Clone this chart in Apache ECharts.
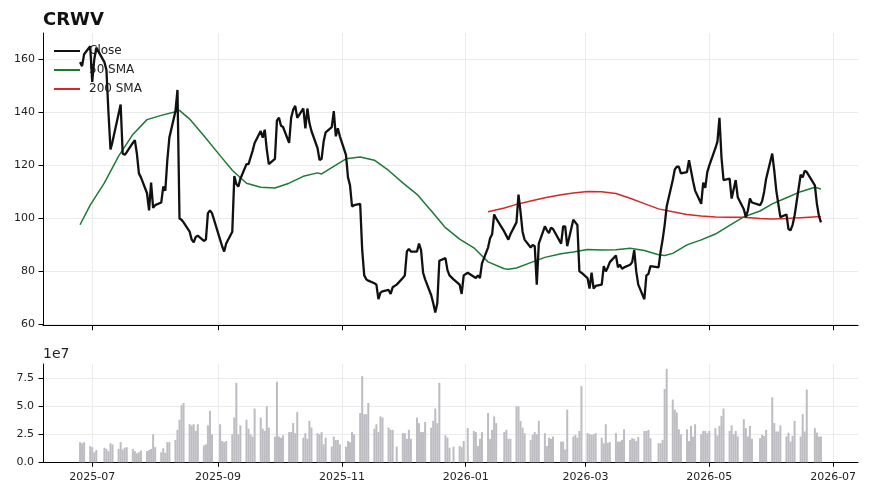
<!DOCTYPE html>
<html>
<head>
<meta charset="utf-8">
<script src="https://cdn.jsdelivr.net/npm/echarts@6/dist/echarts.min.js"></script>
<style>
html,body{margin:0;padding:0;background:#fff;}
#chart{width:869px;height:494px;}
</style>
</head>
<body>
<div id="chart"></div>
<script>
// ---------------- DATA ----------------
const ticker = 'CRWV';
const firstDay = '2025-06-25';
const lastDay = '2026-06-25';
const holidays = ['2025-07-04','2025-09-01','2025-11-27','2025-12-25','2026-01-01',
                  '2026-01-19','2026-02-16','2026-04-03','2026-05-25','2026-06-19'];

// daily closes, one line per trading week
const closes = [
  159, 157.5, 162,
  165, 151.5, 160, 164.5,
  159, 156, 140, 126, 129,
  139.5, 143, 124.5, 124, 125,
  128.5, 129.5, 124.5, 117, 115.5,
  109.5, 103, 113.5, 104, 105,
  106, 112, 110.5, 122, 130.5,
  140.5, 148.5, 100, 99.5, 98.5,
  95, 92, 91, 93, 93.5,
  91.5, 92, 102, 103, 102,
  92, 89.5, 87.5, 90.5,
  95, 116, 113, 112, 115,
  120.5, 120.5, 123, 125.5, 128.5,
  133, 130.5, 133.5, 126, 120.5,
  122.5, 137, 138, 135, 134.5,
  128.5, 138, 141, 142.5, 138,
  141.5, 134, 141.5, 136, 133,
  126.5, 122, 122.5, 129, 132.5,
  134.5, 140.5, 131, 134, 131,
  124, 115.5, 112.5, 104.5, 105,
  105.5, 88, 78.5, 77, 76.5,
  75.5, 75, 69.5, 72, 72.5,
  73, 71.5, 74, 75,
  77.5, 78.5, 87.5, 88.5, 87.5,
  87.5, 90.5, 88, 79.5, 77,
  71, 68, 64.5, 68, 84,
  85, 80.5, 78.5, 77,
  75, 71.5, 78.5, 79.5,
  78, 77.5, 78.5, 77.5, 83,
  89, 92.5, 94, 101.5, 100,
  95, 93.5, 92, 94,
  98.5, 109, 102.5, 95, 92,
  89, 90, 89.5, 75, 90.5,
  97, 95.5, 94.5, 96.5, 96,
  90.5, 97, 97, 89.5,
  99.5, 98.5, 97.5, 80, 79.5,
  77.5, 73.5, 79.5, 73.5, 74.5,
  75, 82, 80, 81.5, 83.5,
  86, 81.5, 82.5, 81, 81.5,
  82.5, 83.5, 88, 80, 75,
  69.5, 78.5, 79, 82,
  81.5, 87.5, 92, 97.5, 104.5,
  114.5, 118.5, 119.5, 119.5, 117,
  117.5, 122, 118, 114, 110.5,
  105.5, 113.5, 111.5, 117.5, 120,
  126.5, 129, 138, 123, 114.5,
  115, 107.5, 111, 114.5, 108,
  103.5, 100.5, 103, 107.5, 106,
  105, 106.5, 110, 115,
  124.5, 118, 110.5, 105.5, 100.5,
  101.5, 96, 95.5, 97.5, 101,
  116.5, 115.5, 118, 117.5,
  112.5, 105.5, 101, 98.5
];

// daily volume in millions of shares, one line per trading week
const volumesMillions = [
  18, 17, 18,
  14.5, 13.5, 9, 11,
  13, 12, 10, 17, 16,
  12, 18, 11.5, 13, 13.5,
  12, 10, 8, 9, 10.5,
  10, 11, 12, 25, 13.5,
  9, 12.5, 8.5, 18, 18,
  20, 29, 38, 51, 53,
  34, 33, 34, 28, 34,
  15, 16, 33, 46, 25,
  34, 19, 18, 19,
  25, 40, 71, 25, 33,
  38, 30, 25, 23, 48,
  40, 30, 28, 50, 31,
  23, 72, 23, 22, 24,
  27, 27, 35, 26, 45,
  22, 26, 21, 37, 31,
  26, 25, 27, 16, 22,
  14, 23, 20, 20, 16,
  14, 19, 18, 27, 25,
  44, 77, 43, 43, 53,
  30, 34, 27, 41, 40,
  31, 29, 29, 14,
  26, 26, 21, 29, 21,
  40, 35, 27, 27, 36,
  31, 37, 48, 35, 71,
  24, 22, 13, 14,
  14.5, 13.5, 19, 30.5,
  28, 27, 14.5, 21, 27,
  44, 21, 29, 41, 35,
  27, 29, 21, 21,
  50, 50, 37, 31, 26,
  20, 24.5, 27, 25, 37,
  26, 14.5, 22, 21, 23,
  18.5, 18.5, 11.5, 47,
  23, 24.5, 22, 28, 68,
  26, 25.5, 24.5, 25, 26,
  22, 17, 34, 17.5, 18,
  26, 18.5, 18.5, 20, 29.5,
  20, 21.5, 21, 19, 22.5,
  28, 28, 29, 21.5,
  17, 17, 20, 65.5, 83.5,
  56, 47, 44.5, 29.5, 25,
  29.5, 19, 32.5, 23, 34,
  25, 28, 28, 26, 28,
  30.5, 24, 32.5, 41.5, 48,
  28, 33, 25, 28, 23,
  38.5, 30.5, 23, 32.5, 21,
  21.5, 24.5, 23.5, 29,
  58, 35, 27.5, 27.5, 33,
  23, 26.5, 18.5, 23.5, 37,
  23, 43, 27.5, 65,
  30.5, 26.5, 23, 23
];

// 50-day SMA, read at the start of each week
const sma50Dates = ['2025-06-25','2025-06-30','2025-07-07','2025-07-14','2025-07-21','2025-07-28','2025-08-04',
  '2025-08-11','2025-08-13','2025-08-18','2025-08-25','2025-09-02','2025-09-08','2025-09-15','2025-09-22','2025-09-29',
  '2025-10-06','2025-10-13','2025-10-20','2025-10-22','2025-10-27','2025-11-03','2025-11-10','2025-11-17','2025-11-24',
  '2025-12-01','2025-12-08','2025-12-15','2025-12-22','2025-12-29','2026-01-05','2026-01-12','2026-01-20','2026-01-22',
  '2026-01-26','2026-02-02','2026-02-09','2026-02-17','2026-02-23','2026-03-02','2026-03-09','2026-03-16','2026-03-23',
  '2026-03-30','2026-04-06','2026-04-09','2026-04-13','2026-04-20','2026-04-27','2026-05-04','2026-05-11','2026-05-18',
  '2026-05-26','2026-06-01','2026-06-08','2026-06-15','2026-06-22','2026-06-25'];
const sma50 = [97.6, 105, 113.4, 123.5, 131.7, 137.3, 138.9,
  140.3, 140.8, 137.5, 131.2, 123.7, 118.2, 113.3, 111.8, 111.5,
  113.3, 115.9, 117.2, 116.8, 119.2, 122.5, 123.2, 122, 118.1,
  113.4, 109.1, 102.9, 96.5, 92.2, 88.9, 83.6, 81, 80.8,
  81.3, 83.3, 85.3, 86.7, 87.3, 88.3, 88.1, 88.2, 88.7,
  87.9, 86.3, 86, 86.8, 90, 91.9, 94.1, 97.4, 100.6,
  102.8, 105.5, 107.8, 110.1, 111.8, 111.1];

// 200-day SMA, read at the start of each week
const sma200Dates = ['2026-01-12','2026-01-20','2026-01-26','2026-02-02','2026-02-09','2026-02-17','2026-02-23',
  '2026-03-02','2026-03-09','2026-03-16','2026-03-23','2026-03-30','2026-04-06','2026-04-13','2026-04-20','2026-04-27',
  '2026-05-04','2026-05-11','2026-05-18','2026-05-26','2026-06-01','2026-06-08','2026-06-15','2026-06-25'];
const sma200 = [102.5, 103.9, 105.3, 106.6, 107.8, 108.9, 109.6,
  110.2, 110.1, 109.4, 107.6, 105.6, 103.6, 102.5, 101.5, 100.9,
  100.5, 100.4, 100.4, 100, 99.8, 100, 100.3, 100.7];

const priceTicks = [60, 80, 100, 120, 140, 160];
const volumeTicks = [0, 25000000, 50000000, 75000000];
const monthTicks = ['2025-07-01','2025-09-01','2025-11-01','2026-01-01','2026-03-01','2026-05-01','2026-07-01'];

// ---------------- BUILD ----------------
const DAY = 86400000;
function utc(s){ const p = s.split('-').map(Number); return Date.UTC(p[0], p[1]-1, p[2]); }
function tradingDays(a, b){
  const out = []; const end = utc(b);
  for (let t = utc(a); t <= end; t += DAY){
    const d = new Date(t); const wd = d.getUTCDay();
    const s = d.toISOString().slice(0,10);
    if (wd !== 0 && wd !== 6 && holidays.indexOf(s) < 0) out.push(t);
  }
  return out;
}
const days = tradingDays(firstDay, lastDay);
if (days.length !== closes.length || days.length !== volumesMillions.length) {
  console.error('length mismatch', days.length, closes.length, volumesMillions.length);
}
const span = days[days.length-1] - days[0];
const xMin = days[0] - 0.05*span, xMax = days[days.length-1] + 0.05*span;
const monthTs = monthTicks.map(utc);

const FONT = 'DejaVu Sans';
const TXT = '#222';
const GRID = '#ebebeb';
function ym(v){ const d = new Date(v); const m = d.getUTCMonth()+1; return d.getUTCFullYear() + '-' + (m<10?'0':'') + m; }

function xAxisDef(idx, showLabels){
  return {type: 'value', gridIndex: idx, min: xMin, max: xMax, scale: true,
    axisLine: {show: true, onZero: false, lineStyle: {color: '#000', width: 1}},
    axisTick: {show: true, length: 4.5, lineStyle: {color: '#000', width: 1}, customValues: monthTs},
    axisLabel: {show: showLabels, customValues: monthTs, formatter: ym, margin: 9,
      fontFamily: FONT, fontSize: 11, color: TXT},
    splitLine: {show: true, lineStyle: {color: GRID, width: 1}}};
}

const chart = echarts.init(document.getElementById('chart'), null, {renderer:'canvas'});
const option = {
  animation: false,
  backgroundColor: '#fff',
  textStyle: {fontFamily: FONT},
  title: {text: ticker, left: 38, top: 6,
    textStyle: {fontFamily: FONT, fontWeight: 'bold', fontSize: 18, color: '#111'}},
  legend: {
    data: ['Close', '50 SMA', '200 SMA'],
    orient: 'vertical', left: 48, top: 40,
    itemWidth: 26, itemHeight: 14, itemGap: 7,
    itemStyle: {opacity: 0},
    textStyle: {fontFamily: FONT, fontSize: 12, color: TXT, padding: [0,0,0,4]}
  },
  grid: [
    {left: 43, right: 11, top: 33, height: 292.7},
    {left: 43, right: 11, top: 364, height: 98.3}
  ],
  xAxis: [xAxisDef(0, false), xAxisDef(1, true)],
  yAxis: [
    {type: 'value', gridIndex: 0, min: 59.5, max: 170,
      axisLine: {show: true, lineStyle: {color: '#000', width: 1}},
      axisTick: {show: true, length: 4.5, lineStyle: {color: '#000', width: 1}, customValues: priceTicks},
      axisLabel: {customValues: priceTicks, margin: 8, fontFamily: FONT, fontSize: 11, color: TXT},
      splitLine: {show: true, lineStyle: {color: GRID, width: 1}}},
    {type: 'value', gridIndex: 1, min: 0, max: 87800000,
      axisLine: {show: true, lineStyle: {color: '#000', width: 1}},
      axisTick: {show: true, length: 4.5, lineStyle: {color: '#000', width: 1}, customValues: volumeTicks},
      axisLabel: {customValues: volumeTicks, margin: 9, fontFamily: FONT, fontSize: 11, color: TXT,
        formatter: v => (v/1e7).toFixed(1)},
      splitLine: {show: true, lineStyle: {color: GRID, width: 1}}}
  ],
  graphic: [
    {type: 'text', left: 43, top: 347, style: {text: '1e7', font: '14px "DejaVu Sans"', fill: TXT}}
  ],
  series: [
    {name: 'Close', type: 'line', xAxisIndex: 0, yAxisIndex: 0, symbol: 'none', showSymbol: false, z: 4,
      data: days.map((t,i) => [t, closes[i]]),
      lineStyle: {color: '#111', width: 2.3}, itemStyle: {color: '#111'}},
    {name: '50 SMA', type: 'line', xAxisIndex: 0, yAxisIndex: 0, symbol: 'none', showSymbol: false, z: 3,
      data: sma50Dates.map((d,i) => [utc(d), sma50[i]]),
      lineStyle: {color: '#1c7a34', width: 1.5}, itemStyle: {color: '#1c7a34'}},
    {name: '200 SMA', type: 'line', xAxisIndex: 0, yAxisIndex: 0, symbol: 'none', showSymbol: false, z: 3,
      data: sma200Dates.map((d,i) => [utc(d), sma200[i]]),
      lineStyle: {color: '#d62728', width: 1.5}, itemStyle: {color: '#d62728'}},
    {name: 'Volume', type: 'bar', xAxisIndex: 1, yAxisIndex: 1, barWidth: 2,
      data: days.map((t,i) => [t, volumesMillions[i]*1e6]),
      itemStyle: {color: '#bcbcc2'}}
  ]
};
chart.setOption(option);
</script>
</body>
</html>
